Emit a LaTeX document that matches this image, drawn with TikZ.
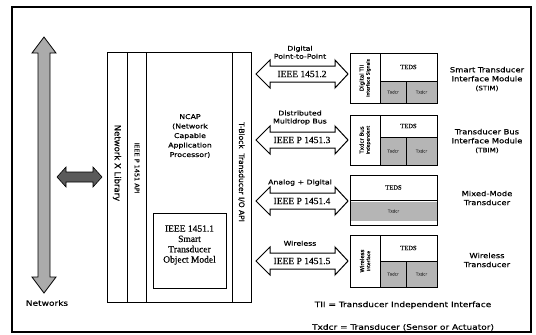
\documentclass[tikz,border=0pt]{standalone}
\usepackage{fontspec}
\setmainfont[FakeStretch=1.2, FakeBold=0.5]{DejaVu Sans}
\newfontfamily\colfont[FakeBold=0.5]{DejaVu Sans}
\newfontfamily\tmsfont[FakeBold=0.4]{Liberation Serif}
\usepackage{tikz}
\usetikzlibrary{positioning}
\definecolor{sgray}{HTML}{ABABAB}
\definecolor{sdark}{HTML}{5A5A5A}
\definecolor{scellc}{HTML}{B5B5B5}
\tikzset{
  sframe/.style={draw=black, line width=1.6pt},
  sline/.style={draw=black, line width=0.9pt},
  snet/.style={draw=black, fill=sgray, line width=0.8pt},
  slink/.style={draw=black, fill=sdark, line width=0.6pt},
  sbus/.style={draw=black, fill=white, line width=1pt, line join=miter},
  scell/.style={fill=scellc},
  slbl/.style={font=\fontsize{6.5}{8}\selectfont, align=center, inner sep=0pt},
  sside/.style={font=\fontsize{7}{9}\selectfont, align=center, inner sep=0pt},
  scol/.style={rotate=-90, inner sep=0pt},
  sncap/.style={font=\fontsize{6.5}{9.5}\selectfont, align=center, inner sep=0pt},
  sstd/.style={font=\tmsfont\fontsize{9.5}{10.3}\selectfont, align=center, inner sep=0pt},
  steds/.style={font=\tmsfont\fontsize{6.5}{7}\selectfont, inner sep=0pt},
  stii/.style={font=\colfont\fontsize{4.5}{6}\selectfont, rotate=90, align=center, inner sep=0pt},
  stx/.style={font=\colfont\fontsize{4}{5}\selectfont, text=black!70, inner sep=0pt},
}
\begin{document}
\begin{tikzpicture}[x=1pt, y=-1pt]
  \useasboundingbox (0,0) rectangle (536,335);

  % frame
  \draw[sframe] (12,7) rectangle (531,332);

  % networks backbone
  \draw[snet] (44,37) -- (56,53) -- (50,53) -- (50,277) -- (56,277) -- (44,293)
    -- (32,277) -- (38,277) -- (38,53) -- (32,53) -- cycle;
  \node[sside, font=\fontsize{7.5}{9}\selectfont] (nets) at (47,303) {Networks};

  % link backbone -- NCAP
  \draw[slink] (57,177) -- (66,167) -- (66,172) -- (93,172) -- (93,167) -- (102,177)
    -- (93,187) -- (93,182) -- (66,182) -- (66,187) -- cycle;

  % NCAP
  \draw[sline] (107,52) rectangle (251,302);
  \foreach \x in {127,146,232}
    \draw[sline] (\x,52) -- (\x,302);
  \node[scol, font=\colfont\fontsize{8.5}{9}\selectfont] (netlib) at (117,163) {Network X Library};
  \node[scol, font=\colfont\fontsize{6.5}{9}\selectfont] (p1451) at (137,168) {IEEE P 1451 API};
  \node[scol, font=\colfont\fontsize{7.5}{9}\selectfont] (tblock) at (241.5,172) {T-Block \ Transducer I/O API};
  \node[sncap] (ncap) at (190,136) {NCAP\\(Network\\Capable\\Application\\Processor)};
  \draw[sline] (153,213) rectangle (226,288);
  \node[sstd] (stom) at (189.5,245) {IEEE 1451.1\\Smart\\Transducer\\Object Model};

  % interfaces
  \foreach \n/\c/\std/\med in {a/74/IEEE 1451.2/{Digital\\Point-to-Point},
      b/140/IEEE P 1451.3/{Distributed\\Multidrop Bus},
      c/201/IEEE P 1451.4/{Analog + Digital},
      d/261/IEEE P 1451.5/{Wireless}} {
    \draw[sbus] (256,\c) -- (270,\c-14) -- (270,\c-8) -- (335,\c-8) -- (335,\c-14)
      -- (348,\c) -- (335,\c+14) -- (335,\c+8) -- (270,\c+8) -- (270,\c+14) -- cycle;
    \node[sstd] (std\n) at (302,\c) {\std};
    \node[slbl, anchor=south] (med\n) at (300,\c-15) {\med};
  }

  % modules with TII
  \foreach \n/\t/\m/\b in {a/53/81/103, b/115/137/165, d/235/261/287} {
    \fill[scell] (380,\m) rectangle (437,\b);
    \draw[sline] (350,\t) rectangle (437,\b);
    \draw[sline] (380,\t) -- (380,\b) (380,\m) -- (437,\m) (406,\m) -- (406,\b);
    \node[steds] (teds\n) at (408.5,{(\t+\m)/2}) {TEDS};
    \node[stx] (txa\n) at (393,{(\m+\b)/2}) {Txdcr};
    \node[stx] (txb\n) at (421.5,{(\m+\b)/2}) {Txdcr};
  }
  \node[stii] (tiia) at (365,78) {{\fontsize{5.5}{6}\selectfont Digital TII}\\Interface Signals};
  \node[stii] (tiib) at (365,140) {{\fontsize{5.5}{6}\selectfont Txdcr Bus}\\Independent};
  \node[stii] (tiid) at (365,261) {{\fontsize{5.5}{6}\selectfont Wireless}\\Interface};

  % mixed-mode module
  \fill[scell] (350,202) rectangle (437,221);
  \draw[sline] (350,175) rectangle (437,225);
  \draw[sline] (350,200) -- (437,200);
  \node[steds] (tedsc) at (393.5,187.5) {TEDS};
  \node[stx] (txc) at (393.5,211) {Txdcr};

  % module names
  \node[sside] (stim) at (487,79) {Smart Transducer\\Interface Module\\{\fontsize{6}{7}\selectfont(STIM)}};
  \node[sside] (tbim) at (487,141) {Transducer Bus\\Interface Module\\{\fontsize{6}{7}\selectfont(TBIM)}};
  \node[sside] (mixed) at (487,198) {Mixed-Mode\\Transducer};
  \node[sside] (wless) at (487,260) {Wireless\\Transducer};

  % legend
  \node[sside, font=\fontsize{7.5}{9}\selectfont] (tii) at (403,305) {TII = Transducer Independent Interface};
  \node[sside, font=\fontsize{7.5}{9}\selectfont, below=15pt of tii] (txdcr) {Txdcr = Transducer (Sensor or Actuator)};

\end{tikzpicture}
\end{document}
